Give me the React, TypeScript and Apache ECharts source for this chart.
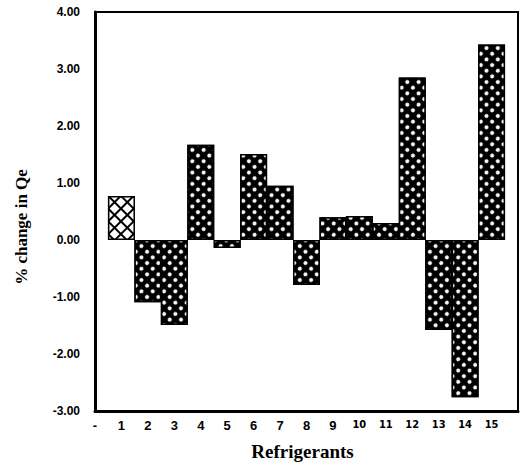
import React, { useEffect, useRef } from "react";
import * as echarts from "echarts";

const refrigerants = [1, 2, 3, 4, 5, 6, 7, 8, 9, 10, 11, 12, 13, 14, 15];
const qeChange = [0.77, -1.09, -1.49, 1.67, -0.14, 1.51, 0.95, -0.79, 0.4, 0.42, 0.3, 2.85, -1.58, -2.76, 3.43];
const yTicks = [-3, -2, -1, 0, 1, 2, 3, 4];

const denseDecal = {
  symbol: "circle",
  symbolSize: 1,
  color: "#ffffff",
  dashArrayX: [3.3, 3.1],
  dashArrayY: [3.3, 3.1],
  rotation: Math.PI / 4,
};

const lightDecal = {
  symbol: "rect",
  symbolSize: 1,
  color: "#ffffff",
  dashArrayX: [7, 1.3],
  dashArrayY: [7, 1.3],
  rotation: Math.PI / 4,
};

export default function App() {
  const ref = useRef<HTMLDivElement>(null);
  useEffect(() => {
    if (!ref.current) return;
    const chart = echarts.init(ref.current, undefined, { renderer: "svg" });
    const data = refrigerants.map((r, i) => ({
      value: [r, qeChange[i]],
      itemStyle: i === 0 ? { color: "#000", decal: lightDecal } : { color: "#000", decal: denseDecal },
    }));
    chart.setOption({
      animation: false,
      backgroundColor: "#fff",
      grid: {
        left: 95,
        right: 4,
        top: 12,
        bottom: 55,
        outerBoundsMode: "none",
        containLabel: false,
        show: true,
        borderColor: "#000",
        borderWidth: 2,
        backgroundColor: "transparent",
      },
      graphic: [
        {
          type: "text",
          x: 21,
          y: 227,
          rotation: Math.PI / 2,
          style: {
            text: "% change in Qe",
            align: "center",
            verticalAlign: "middle",
            fontFamily: "Times New Roman, Liberation Serif, serif",
            fontWeight: "bold",
            fontSize: 17,
            fill: "#000",
          },
        },
      ],
      xAxis: {
        type: "value",
        min: 0,
        max: 16,
        interval: 1,
        axisLine: { show: true, onZero: false, lineStyle: { color: "#000", width: 3 } },
        axisTick: { show: false },
        splitLine: { show: false },
        axisLabel: {
          margin: 8,
          color: "#000",
          formatter: (v: number) => {
            if (v === 0) return "{a|-}";
            if (v > 15) return "";
            return v >= 10 ? `{b|${v}}` : `{a|${v}}`;
          },
          rich: {
            a: { fontFamily: "Arial, Liberation Sans, sans-serif", fontWeight: "bold", fontSize: 13, color: "#000" },
            b: { fontFamily: "DejaVu Sans Condensed, Arial, sans-serif", fontWeight: "bold", fontSize: 11, color: "#000" },
          },
        },
        name: "Refrigerants",
        nameLocation: "middle",
        nameGap: 31,
        nameTextStyle: {
          fontFamily: "Times New Roman, Liberation Serif, serif",
          fontWeight: "bold",
          fontSize: 19,
          color: "#000",
          padding: [0, 8, 0, 0],
        },
      },
      yAxis: {
        type: "value",
        min: yTicks[0],
        max: yTicks[yTicks.length - 1],
        interval: 1,
        axisLine: { show: true, onZero: false, lineStyle: { color: "#000", width: 3 } },
        axisTick: { show: true, inside: true, length: 2, lineStyle: { color: "#000" } },
        splitLine: { show: false },
        axisLabel: {
          margin: 15,
          color: "#000",
          fontFamily: "Arial, Liberation Sans, sans-serif",
          fontWeight: "bold",
          fontSize: 12,
          formatter: (v: number) => v.toFixed(2),
        },
      },
      series: [
        {
          type: "bar",
          data,
          barWidth: 27,
          itemStyle: { borderColor: "#000", borderWidth: 1.5 },
        },
      ],
    });
    return () => chart.dispose();
  }, []);
  return <div ref={ref} style={{ width: 522, height: 466, position: "absolute", left: 0, top: 0 }} />;
}
